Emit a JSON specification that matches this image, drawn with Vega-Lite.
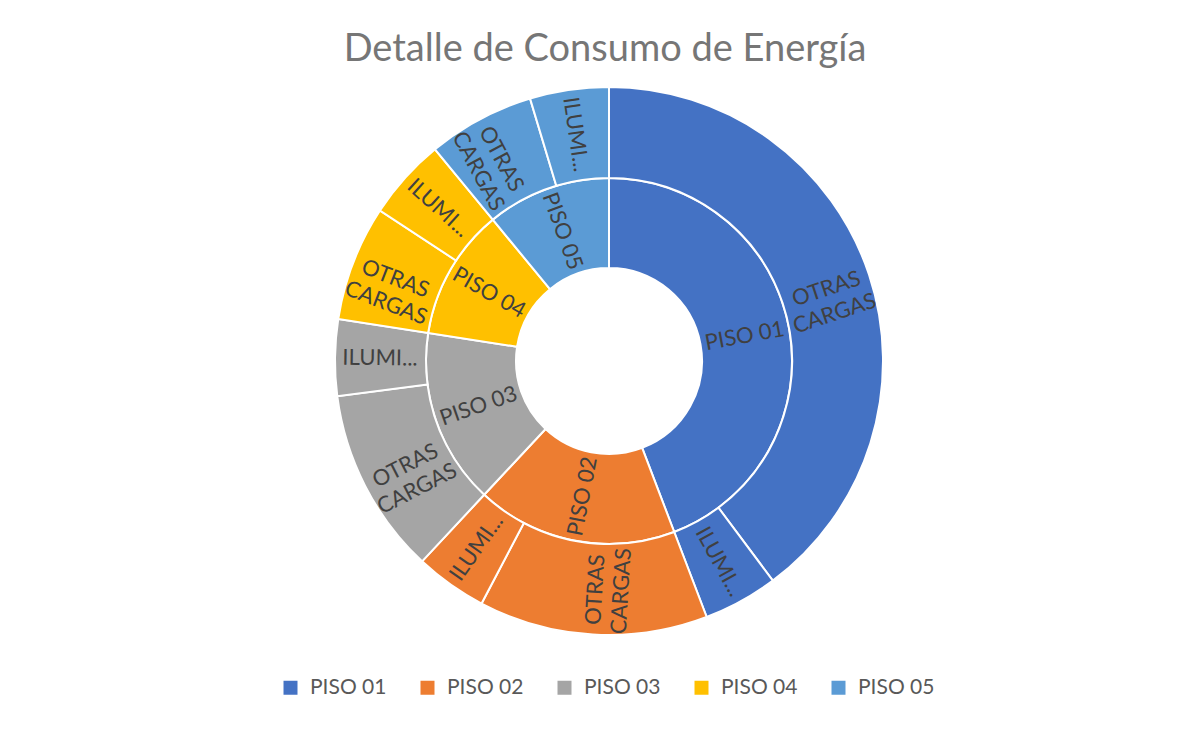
{
  "$schema": "https://vega.github.io/schema/vega-lite/v6.json",
  "width": 1188,
  "height": 542,
  "autosize": {"type": "none"},
  "padding": {"left": 15, "top": 90, "right": 0, "bottom": 103},
  "background": "white",
  "title": {
    "text": "Detalle de Consumo de Energía",
    "font": "Lato",
    "fontSize": 38,
    "fontWeight": "normal",
    "color": "#767676",
    "anchor": "middle",
    "offset": 14,
    "dx": -4
  },
  "data": {
    "values": [
      {"piso": "PISO 01", "carga": "OTRAS CARGAS", "valor": 39.8},
      {"piso": "PISO 01", "carga": "ILUMINACIÓN", "valor": 4.4},
      {"piso": "PISO 02", "carga": "OTRAS CARGAS", "valor": 13.5},
      {"piso": "PISO 02", "carga": "ILUMINACIÓN", "valor": 4.25},
      {"piso": "PISO 03", "carga": "OTRAS CARGAS", "valor": 11.0},
      {"piso": "PISO 03", "carga": "ILUMINACIÓN", "valor": 4.5},
      {"piso": "PISO 04", "carga": "OTRAS CARGAS", "valor": 6.8},
      {"piso": "PISO 04", "carga": "ILUMINACIÓN", "valor": 4.8},
      {"piso": "PISO 05", "carga": "OTRAS CARGAS", "valor": 6.3},
      {"piso": "PISO 05", "carga": "ILUMINACIÓN", "valor": 4.65}
    ]
  },
  "layer": [
    {
      "transform": [
        {"aggregate": [{"op": "sum", "field": "valor", "as": "valor"}], "groupby": ["piso"]},
        {"joinaggregate": [{"op": "sum", "field": "valor", "as": "total"}]},
        {"stack": "valor", "groupby": [], "sort": [{"field": "piso", "order": "ascending"}], "as": ["v0", "v1"]},
        {"calculate": "datum.v0/datum.total", "as": "t0"},
        {"calculate": "datum.v1/datum.total", "as": "t1"}
      ],
      "mark": {"type": "arc", "innerRadius": 93, "outerRadius": 183, "stroke": "white", "strokeWidth": 2},
      "encoding": {
        "theta": {"field": "t0", "type": "quantitative", "scale": {"domain": [0, 1]}},
        "theta2": {"field": "t1"},
        "color": {
          "field": "piso",
          "type": "nominal",
          "scale": {
            "domain": ["PISO 01", "PISO 02", "PISO 03", "PISO 04", "PISO 05"],
            "range": ["#4472C4", "#ED7D31", "#A5A5A5", "#FFC000", "#5B9BD5"]
          },
          "legend": {
            "orient": "none",
            "direction": "horizontal",
            "legendX": 265,
            "legendY": 587,
            "title": null
          }
        }
      }
    },
    {
      "transform": [
        {"joinaggregate": [{"op": "sum", "field": "valor", "as": "total"}]},
        {"stack": "valor", "groupby": [], "sort": [{"field": "piso", "order": "ascending"}, {"field": "carga", "order": "descending"}], "as": ["v0", "v1"]},
        {"calculate": "datum.v0/datum.total", "as": "t0"},
        {"calculate": "datum.v1/datum.total", "as": "t1"}
      ],
      "mark": {"type": "arc", "innerRadius": 183, "outerRadius": 274, "stroke": "white", "strokeWidth": 2},
      "encoding": {
        "theta": {"field": "t0", "type": "quantitative", "scale": {"domain": [0, 1]}},
        "theta2": {"field": "t1"},
        "color": {"field": "piso", "type": "nominal"}
      }
    },
    {
      "transform": [
        {"aggregate": [{"op": "sum", "field": "valor", "as": "valor"}], "groupby": ["piso"]},
        {"joinaggregate": [{"op": "sum", "field": "valor", "as": "total"}]},
        {"stack": "valor", "groupby": [], "sort": [{"field": "piso", "order": "ascending"}], "as": ["v0", "v1"]},
        {"calculate": "(datum.v0 + datum.v1) / 2 / datum.total", "as": "mid"},
        {"calculate": "datum.mid * 360 < 180 ? datum.mid * 360 - 90 : datum.mid * 360 - 270", "as": "rot"}
      ],
      "mark": {"type": "text", "radius": 138, "font": "Lato", "fontSize": 22, "color": "#404040", "align": "center", "baseline": "middle"},
      "encoding": {
        "theta": {"field": "mid", "type": "quantitative", "stack": null, "scale": {"domain": [0, 1]}},
        "angle": {"field": "rot", "type": "quantitative", "scale": null},
        "text": {"field": "piso"}
      }
    },
    {
      "transform": [
        {"joinaggregate": [{"op": "sum", "field": "valor", "as": "total"}]},
        {"stack": "valor", "groupby": [], "sort": [{"field": "piso", "order": "ascending"}, {"field": "carga", "order": "descending"}], "as": ["v0", "v1"]},
        {"calculate": "(datum.v0 + datum.v1) / 2 / datum.total", "as": "mid"},
        {"calculate": "datum.mid * 360 < 180 ? datum.mid * 360 - 90 : datum.mid * 360 - 270", "as": "rot"},
        {"calculate": "datum.carga == 'OTRAS CARGAS' ? 'OTRAS\\nCARGAS' : 'ILUMI...'", "as": "etiqueta"}
      ],
      "mark": {"type": "text", "radius": 229, "font": "Lato", "fontSize": 22, "color": "#404040", "align": "center", "baseline": "middle", "lineBreak": "\n", "lineHeight": 26},
      "encoding": {
        "theta": {"field": "mid", "type": "quantitative", "stack": null, "scale": {"domain": [0, 1]}},
        "angle": {"field": "rot", "type": "quantitative", "scale": null},
        "text": {"field": "etiqueta"}
      }
    }
  ],
  "config": {
    "view": {"stroke": null},
    "legend": {
      "symbolType": "square",
      "symbolSize": 196,
      "symbolStrokeWidth": 0,
      "labelFont": "Lato",
      "labelFontSize": 21,
      "labelColor": "#595959",
      "labelOffset": 9,
      "columnPadding": 30
    }
  }
}
